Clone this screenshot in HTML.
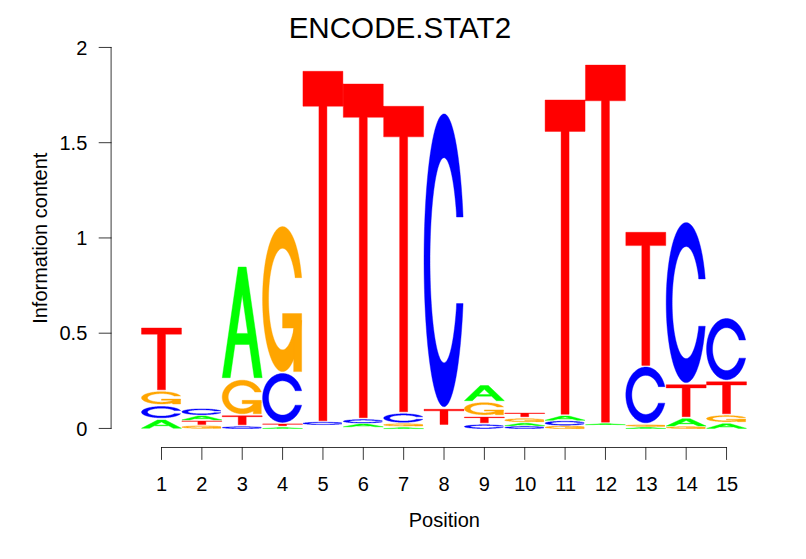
<!DOCTYPE html>
<html><head><meta charset="utf-8"><title>ENCODE.STAT2</title>
<style>
html,body{margin:0;padding:0;background:#fff;}
body{width:806px;height:559px;overflow:hidden;font-family:"Liberation Sans",sans-serif;}
svg{display:block;}
defs path{vector-effect:non-scaling-stroke;stroke-width:0.4;stroke-linejoin:round}
text{font-family:"Liberation Sans",sans-serif;fill:#000;}
</style></head><body>
<svg width="806" height="559" viewBox="0 0 806 559">
<rect width="806" height="559" fill="#fff"/>
<defs>
<path id="lA" fill-rule="evenodd" d="M0 0L0.4 1L0.6 1L1 0L0.8 0L0.68 0.3L0.32 0.3L0.2 0ZM0.36 0.4L0.5 0.75L0.64 0.4Z"/>
<path id="lC" d="M0.9777 0.3522L0.9735 0.3394L0.969 0.3266L0.9641 0.314L0.9589 0.3015L0.9534 0.2892L0.9475 0.277L0.9413 0.265L0.9348 0.2532L0.928 0.2415L0.9208 0.23L0.9134 0.2187L0.9056 0.2077L0.8976 0.1968L0.8892 0.1862L0.8806 0.1758L0.8717 0.1656L0.8625 0.1557L0.8531 0.146L0.8434 0.1366L0.8334 0.1274L0.8233 0.1185L0.8128 0.1099L0.8022 0.1016L0.7913 0.0936L0.7802 0.0859L0.7689 0.0785L0.7574 0.0713L0.7457 0.0645L0.7339 0.0581L0.7218 0.0519L0.7096 0.0461L0.6973 0.0406L0.6848 0.0354L0.6722 0.0306L0.6594 0.0261L0.6465 0.022L0.6335 0.0182L0.6205 0.0147L0.6073 0.0117L0.5941 0.0089L0.5808 0.0066L0.5674 0.0046L0.554 0.0029L0.5405 0.0016L0.527 0.0007L0.5135 0.0002L0.5 0L0.5 0L0.4833 0.0003L0.4666 0.0011L0.45 0.0025L0.4334 0.0045L0.4168 0.007L0.4004 0.01L0.3841 0.0136L0.3679 0.0178L0.3519 0.0224L0.336 0.0277L0.3203 0.0334L0.3048 0.0397L0.2895 0.0465L0.2745 0.0537L0.2597 0.0615L0.2452 0.0698L0.231 0.0786L0.217 0.0878L0.2034 0.0975L0.1901 0.1076L0.1772 0.1182L0.1646 0.1292L0.1524 0.1406L0.1406 0.1524L0.1292 0.1646L0.1182 0.1772L0.1076 0.1901L0.0975 0.2034L0.0878 0.217L0.0786 0.231L0.0698 0.2452L0.0615 0.2597L0.0537 0.2745L0.0465 0.2895L0.0397 0.3048L0.0334 0.3203L0.0277 0.336L0.0224 0.3519L0.0178 0.3679L0.0136 0.3841L0.01 0.4004L0.007 0.4168L0.0045 0.4334L0.0025 0.45L0.0011 0.4666L0.0003 0.4833L0 0.5L0 0.5L0.0003 0.5167L0.0011 0.5334L0.0025 0.55L0.0045 0.5666L0.007 0.5832L0.01 0.5996L0.0136 0.6159L0.0178 0.6321L0.0224 0.6481L0.0277 0.664L0.0334 0.6797L0.0397 0.6952L0.0465 0.7105L0.0537 0.7255L0.0615 0.7403L0.0698 0.7548L0.0786 0.769L0.0878 0.783L0.0975 0.7966L0.1076 0.8099L0.1182 0.8228L0.1292 0.8354L0.1406 0.8476L0.1524 0.8594L0.1646 0.8708L0.1772 0.8818L0.1901 0.8924L0.2034 0.9025L0.217 0.9122L0.231 0.9214L0.2452 0.9302L0.2597 0.9385L0.2745 0.9463L0.2895 0.9535L0.3048 0.9603L0.3203 0.9666L0.336 0.9723L0.3519 0.9776L0.3679 0.9822L0.3841 0.9864L0.4004 0.99L0.4168 0.993L0.4334 0.9955L0.45 0.9975L0.4666 0.9989L0.4833 0.9997L0.5 1L0.5 1L0.5135 0.9998L0.527 0.9993L0.5405 0.9984L0.554 0.9971L0.5674 0.9954L0.5808 0.9934L0.5941 0.9911L0.6073 0.9883L0.6205 0.9853L0.6335 0.9818L0.6465 0.978L0.6594 0.9739L0.6722 0.9694L0.6848 0.9646L0.6973 0.9594L0.7096 0.9539L0.7218 0.9481L0.7339 0.9419L0.7457 0.9355L0.7574 0.9287L0.7689 0.9215L0.7802 0.9141L0.7913 0.9064L0.8022 0.8984L0.8128 0.8901L0.8233 0.8815L0.8334 0.8726L0.8434 0.8634L0.8531 0.854L0.8625 0.8443L0.8717 0.8344L0.8806 0.8242L0.8892 0.8138L0.8976 0.8032L0.9056 0.7923L0.9134 0.7813L0.9208 0.77L0.928 0.7585L0.9348 0.7468L0.9413 0.735L0.9475 0.723L0.9534 0.7108L0.9589 0.6985L0.9641 0.686L0.969 0.6734L0.9735 0.6606L0.9777 0.6478L0.8133 0.6478L0.8089 0.6645L0.8044 0.6728L0.7996 0.681L0.7946 0.689L0.7894 0.6969L0.7839 0.7046L0.7783 0.7122L0.7725 0.7197L0.7664 0.727L0.7602 0.7341L0.7538 0.741L0.7472 0.7478L0.7404 0.7544L0.7334 0.7608L0.7263 0.767L0.719 0.773L0.7115 0.7789L0.7039 0.7845L0.6961 0.7899L0.6882 0.7951L0.6802 0.8001L0.672 0.8048L0.6637 0.8094L0.6553 0.8137L0.6467 0.8178L0.6381 0.8216L0.6293 0.8252L0.6205 0.8286L0.6116 0.8317L0.6026 0.8346L0.5935 0.8373L0.5843 0.8397L0.5751 0.8418L0.5658 0.8437L0.5565 0.8454L0.5472 0.8468L0.5378 0.848L0.5284 0.8488L0.5189 0.8495L0.5095 0.8499L0.5 0.85L0.5 0.85L0.4883 0.8498L0.4766 0.8492L0.465 0.8482L0.4533 0.8469L0.4418 0.8451L0.4303 0.843L0.4189 0.8405L0.4075 0.8376L0.3963 0.8343L0.3852 0.8306L0.3742 0.8266L0.3634 0.8222L0.3527 0.8175L0.3421 0.8124L0.3318 0.8069L0.3216 0.8011L0.3117 0.795L0.3019 0.7886L0.2924 0.7818L0.2831 0.7747L0.274 0.7673L0.2652 0.7596L0.2567 0.7516L0.2484 0.7433L0.2404 0.7348L0.2327 0.726L0.2253 0.7169L0.2182 0.7076L0.2114 0.6981L0.205 0.6883L0.1989 0.6784L0.1931 0.6682L0.1876 0.6579L0.1825 0.6473L0.1778 0.6366L0.1734 0.6258L0.1694 0.6148L0.1657 0.6037L0.1624 0.5925L0.1595 0.5811L0.157 0.5697L0.1549 0.5582L0.1531 0.5467L0.1518 0.535L0.1508 0.5234L0.1502 0.5117L0.15 0.5L0.15 0.5L0.1502 0.4883L0.1508 0.4766L0.1518 0.465L0.1531 0.4533L0.1549 0.4418L0.157 0.4303L0.1595 0.4189L0.1624 0.4075L0.1657 0.3963L0.1694 0.3852L0.1734 0.3742L0.1778 0.3634L0.1825 0.3527L0.1876 0.3421L0.1931 0.3318L0.1989 0.3216L0.205 0.3117L0.2114 0.3019L0.2182 0.2924L0.2253 0.2831L0.2327 0.274L0.2404 0.2652L0.2484 0.2567L0.2567 0.2484L0.2652 0.2404L0.274 0.2327L0.2831 0.2253L0.2924 0.2182L0.3019 0.2114L0.3117 0.205L0.3216 0.1989L0.3318 0.1931L0.3421 0.1876L0.3527 0.1825L0.3634 0.1778L0.3742 0.1734L0.3852 0.1694L0.3963 0.1657L0.4075 0.1624L0.4189 0.1595L0.4303 0.157L0.4418 0.1549L0.4533 0.1531L0.465 0.1518L0.4766 0.1508L0.4883 0.1502L0.5 0.15L0.5 0.15L0.5095 0.1501L0.5189 0.1505L0.5284 0.1512L0.5378 0.152L0.5472 0.1532L0.5565 0.1546L0.5658 0.1563L0.5751 0.1582L0.5843 0.1603L0.5935 0.1627L0.6026 0.1654L0.6116 0.1683L0.6205 0.1714L0.6293 0.1748L0.6381 0.1784L0.6467 0.1822L0.6553 0.1863L0.6637 0.1906L0.672 0.1952L0.6802 0.1999L0.6882 0.2049L0.6961 0.2101L0.7039 0.2155L0.7115 0.2211L0.719 0.227L0.7263 0.233L0.7334 0.2392L0.7404 0.2456L0.7472 0.2522L0.7538 0.259L0.7602 0.2659L0.7664 0.273L0.7725 0.2803L0.7783 0.2878L0.7839 0.2954L0.7894 0.3031L0.7946 0.311L0.7996 0.319L0.8044 0.3272L0.8089 0.3355L0.8133 0.3522Z"/>
<g id="lG"><path d="M0.9777 0.3522L0.9735 0.3394L0.969 0.3266L0.9641 0.314L0.9589 0.3015L0.9534 0.2892L0.9475 0.277L0.9413 0.265L0.9348 0.2532L0.928 0.2415L0.9208 0.23L0.9134 0.2187L0.9056 0.2077L0.8976 0.1968L0.8892 0.1862L0.8806 0.1758L0.8717 0.1656L0.8625 0.1557L0.8531 0.146L0.8434 0.1366L0.8334 0.1274L0.8233 0.1185L0.8128 0.1099L0.8022 0.1016L0.7913 0.0936L0.7802 0.0859L0.7689 0.0785L0.7574 0.0713L0.7457 0.0645L0.7339 0.0581L0.7218 0.0519L0.7096 0.0461L0.6973 0.0406L0.6848 0.0354L0.6722 0.0306L0.6594 0.0261L0.6465 0.022L0.6335 0.0182L0.6205 0.0147L0.6073 0.0117L0.5941 0.0089L0.5808 0.0066L0.5674 0.0046L0.554 0.0029L0.5405 0.0016L0.527 0.0007L0.5135 0.0002L0.5 0L0.5 0L0.4833 0.0003L0.4666 0.0011L0.45 0.0025L0.4334 0.0045L0.4168 0.007L0.4004 0.01L0.3841 0.0136L0.3679 0.0178L0.3519 0.0224L0.336 0.0277L0.3203 0.0334L0.3048 0.0397L0.2895 0.0465L0.2745 0.0537L0.2597 0.0615L0.2452 0.0698L0.231 0.0786L0.217 0.0878L0.2034 0.0975L0.1901 0.1076L0.1772 0.1182L0.1646 0.1292L0.1524 0.1406L0.1406 0.1524L0.1292 0.1646L0.1182 0.1772L0.1076 0.1901L0.0975 0.2034L0.0878 0.217L0.0786 0.231L0.0698 0.2452L0.0615 0.2597L0.0537 0.2745L0.0465 0.2895L0.0397 0.3048L0.0334 0.3203L0.0277 0.336L0.0224 0.3519L0.0178 0.3679L0.0136 0.3841L0.01 0.4004L0.007 0.4168L0.0045 0.4334L0.0025 0.45L0.0011 0.4666L0.0003 0.4833L0 0.5L0 0.5L0.0003 0.5167L0.0011 0.5334L0.0025 0.55L0.0045 0.5666L0.007 0.5832L0.01 0.5996L0.0136 0.6159L0.0178 0.6321L0.0224 0.6481L0.0277 0.664L0.0334 0.6797L0.0397 0.6952L0.0465 0.7105L0.0537 0.7255L0.0615 0.7403L0.0698 0.7548L0.0786 0.769L0.0878 0.783L0.0975 0.7966L0.1076 0.8099L0.1182 0.8228L0.1292 0.8354L0.1406 0.8476L0.1524 0.8594L0.1646 0.8708L0.1772 0.8818L0.1901 0.8924L0.2034 0.9025L0.217 0.9122L0.231 0.9214L0.2452 0.9302L0.2597 0.9385L0.2745 0.9463L0.2895 0.9535L0.3048 0.9603L0.3203 0.9666L0.336 0.9723L0.3519 0.9776L0.3679 0.9822L0.3841 0.9864L0.4004 0.99L0.4168 0.993L0.4334 0.9955L0.45 0.9975L0.4666 0.9989L0.4833 0.9997L0.5 1L0.5 1L0.5135 0.9998L0.527 0.9993L0.5405 0.9984L0.554 0.9971L0.5674 0.9954L0.5808 0.9934L0.5941 0.9911L0.6073 0.9883L0.6205 0.9853L0.6335 0.9818L0.6465 0.978L0.6594 0.9739L0.6722 0.9694L0.6848 0.9646L0.6973 0.9594L0.7096 0.9539L0.7218 0.9481L0.7339 0.9419L0.7457 0.9355L0.7574 0.9287L0.7689 0.9215L0.7802 0.9141L0.7913 0.9064L0.8022 0.8984L0.8128 0.8901L0.8233 0.8815L0.8334 0.8726L0.8434 0.8634L0.8531 0.854L0.8625 0.8443L0.8717 0.8344L0.8806 0.8242L0.8892 0.8138L0.8976 0.8032L0.9056 0.7923L0.9134 0.7813L0.9208 0.77L0.928 0.7585L0.9348 0.7468L0.9413 0.735L0.9475 0.723L0.9534 0.7108L0.9589 0.6985L0.9641 0.686L0.969 0.6734L0.9735 0.6606L0.9777 0.6478L0.8133 0.6478L0.8089 0.6645L0.8044 0.6728L0.7996 0.681L0.7946 0.689L0.7894 0.6969L0.7839 0.7046L0.7783 0.7122L0.7725 0.7197L0.7664 0.727L0.7602 0.7341L0.7538 0.741L0.7472 0.7478L0.7404 0.7544L0.7334 0.7608L0.7263 0.767L0.719 0.773L0.7115 0.7789L0.7039 0.7845L0.6961 0.7899L0.6882 0.7951L0.6802 0.8001L0.672 0.8048L0.6637 0.8094L0.6553 0.8137L0.6467 0.8178L0.6381 0.8216L0.6293 0.8252L0.6205 0.8286L0.6116 0.8317L0.6026 0.8346L0.5935 0.8373L0.5843 0.8397L0.5751 0.8418L0.5658 0.8437L0.5565 0.8454L0.5472 0.8468L0.5378 0.848L0.5284 0.8488L0.5189 0.8495L0.5095 0.8499L0.5 0.85L0.5 0.85L0.4883 0.8498L0.4766 0.8492L0.465 0.8482L0.4533 0.8469L0.4418 0.8451L0.4303 0.843L0.4189 0.8405L0.4075 0.8376L0.3963 0.8343L0.3852 0.8306L0.3742 0.8266L0.3634 0.8222L0.3527 0.8175L0.3421 0.8124L0.3318 0.8069L0.3216 0.8011L0.3117 0.795L0.3019 0.7886L0.2924 0.7818L0.2831 0.7747L0.274 0.7673L0.2652 0.7596L0.2567 0.7516L0.2484 0.7433L0.2404 0.7348L0.2327 0.726L0.2253 0.7169L0.2182 0.7076L0.2114 0.6981L0.205 0.6883L0.1989 0.6784L0.1931 0.6682L0.1876 0.6579L0.1825 0.6473L0.1778 0.6366L0.1734 0.6258L0.1694 0.6148L0.1657 0.6037L0.1624 0.5925L0.1595 0.5811L0.157 0.5697L0.1549 0.5582L0.1531 0.5467L0.1518 0.535L0.1508 0.5234L0.1502 0.5117L0.15 0.5L0.15 0.5L0.1502 0.4883L0.1508 0.4766L0.1518 0.465L0.1531 0.4533L0.1549 0.4418L0.157 0.4303L0.1595 0.4189L0.1624 0.4075L0.1657 0.3963L0.1694 0.3852L0.1734 0.3742L0.1778 0.3634L0.1825 0.3527L0.1876 0.3421L0.1931 0.3318L0.1989 0.3216L0.205 0.3117L0.2114 0.3019L0.2182 0.2924L0.2253 0.2831L0.2327 0.274L0.2404 0.2652L0.2484 0.2567L0.2567 0.2484L0.2652 0.2404L0.274 0.2327L0.2831 0.2253L0.2924 0.2182L0.3019 0.2114L0.3117 0.205L0.3216 0.1989L0.3318 0.1931L0.3421 0.1876L0.3527 0.1825L0.3634 0.1778L0.3742 0.1734L0.3852 0.1694L0.3963 0.1657L0.4075 0.1624L0.4189 0.1595L0.4303 0.157L0.4418 0.1549L0.4533 0.1531L0.465 0.1518L0.4766 0.1508L0.4883 0.1502L0.5 0.15L0.5 0.15L0.5095 0.1501L0.5189 0.1505L0.5284 0.1512L0.5378 0.152L0.5472 0.1532L0.5565 0.1546L0.5658 0.1563L0.5751 0.1582L0.5843 0.1603L0.5935 0.1627L0.6026 0.1654L0.6116 0.1683L0.6205 0.1714L0.6293 0.1748L0.6381 0.1784L0.6467 0.1822L0.6553 0.1863L0.6637 0.1906L0.672 0.1952L0.6802 0.1999L0.6882 0.2049L0.6961 0.2101L0.7039 0.2155L0.7115 0.2211L0.719 0.227L0.7263 0.233L0.7334 0.2392L0.7404 0.2456L0.7472 0.2522L0.7538 0.259L0.7602 0.2659L0.7664 0.273L0.7725 0.2803L0.7783 0.2878L0.7839 0.2954L0.7894 0.3031L0.7946 0.311L0.7996 0.319L0.8044 0.3272L0.8089 0.3355L0.8133 0.3522Z"/><path d="M0.9777 0.4L0.5 0.4L0.5 0.3L0.7777 0.3L0.7777 0L0.9777 0Z"/></g>
<path id="lT" d="M0 1L1 1L1 0.9L0.6 0.9L0.6 0L0.4 0L0.4 0.9L0 0.9Z"/>
</defs>
<g>
<use href="#lT" fill="#ff0000" stroke="#ff0000" transform="translate(141.50 389.80) scale(39.96 -61.80)"/>
<use href="#lG" fill="#ffa500" stroke="#ffa500" transform="translate(141.50 404.00) scale(39.96 -12.30)"/>
<use href="#lC" fill="#0000ff" stroke="#0000ff" transform="translate(141.50 417.80) scale(39.96 -11.30)"/>
<use href="#lA" fill="#00ff00" stroke="#00ff00" transform="translate(141.50 428.30) scale(39.96 -8.30)"/>
<use href="#lC" fill="#0000ff" stroke="#0000ff" transform="translate(181.86 414.70) scale(39.96 -5.80)"/>
<use href="#lA" fill="#00ff00" stroke="#00ff00" transform="translate(181.86 419.90) scale(39.96 -3.90)"/>
<use href="#lT" fill="#ff0000" stroke="#ff0000" transform="translate(181.86 424.60) scale(39.96 -3.60)"/>
<use href="#lG" fill="#ffa500" stroke="#ffa500" transform="translate(181.86 428.30) scale(39.96 -2.40)"/>
<use href="#lA" fill="#00ff00" stroke="#00ff00" transform="translate(222.22 377.70) scale(39.96 -110.70)"/>
<use href="#lG" fill="#ffa500" stroke="#ffa500" transform="translate(222.22 413.80) scale(39.96 -33.60)"/>
<use href="#lT" fill="#ff0000" stroke="#ff0000" transform="translate(222.22 424.80) scale(39.96 -9.00)"/>
<use href="#lC" fill="#0000ff" stroke="#0000ff" transform="translate(222.22 428.50) scale(39.96 -1.70)"/>
<use href="#lG" fill="#ffa500" stroke="#ffa500" transform="translate(262.58 371.60) scale(39.96 -145.00)"/>
<use href="#lC" fill="#0000ff" stroke="#0000ff" transform="translate(262.58 422.40) scale(39.96 -48.90)"/>
<use href="#lT" fill="#ff0000" stroke="#ff0000" transform="translate(262.58 425.70) scale(39.96 -1.70)"/>
<use href="#lA" fill="#00ff00" stroke="#00ff00" transform="translate(262.58 428.50) scale(39.96 -0.80)"/>
<use href="#lT" fill="#ff0000" stroke="#ff0000" transform="translate(302.94 420.80) scale(39.96 -349.50)"/>
<use href="#lC" fill="#0000ff" stroke="#0000ff" transform="translate(302.94 424.60) scale(39.96 -2.40)"/>
<use href="#lT" fill="#ff0000" stroke="#ff0000" transform="translate(343.30 417.70) scale(39.96 -333.70)"/>
<use href="#lC" fill="#0000ff" stroke="#0000ff" transform="translate(343.30 423.00) scale(39.96 -3.40)"/>
<use href="#lA" fill="#00ff00" stroke="#00ff00" transform="translate(343.30 426.80) scale(39.96 -2.80)"/>
<use href="#lT" fill="#ff0000" stroke="#ff0000" transform="translate(383.66 411.80) scale(39.96 -305.50)"/>
<use href="#lC" fill="#0000ff" stroke="#0000ff" transform="translate(383.66 422.30) scale(39.96 -8.50)"/>
<use href="#lG" fill="#ffa500" stroke="#ffa500" transform="translate(383.66 426.00) scale(39.96 -2.20)"/>
<use href="#lA" fill="#00ff00" stroke="#00ff00" transform="translate(383.66 428.60) scale(39.96 -0.80)"/>
<use href="#lC" fill="#0000ff" stroke="#0000ff" transform="translate(424.02 406.70) scale(39.96 -292.80)"/>
<use href="#lT" fill="#ff0000" stroke="#ff0000" transform="translate(424.02 424.50) scale(39.96 -15.20)"/>
<use href="#lA" fill="#00ff00" stroke="#00ff00" transform="translate(464.38 400.70) scale(39.96 -15.20)"/>
<use href="#lG" fill="#ffa500" stroke="#ffa500" transform="translate(464.38 414.70) scale(39.96 -12.00)"/>
<use href="#lT" fill="#ff0000" stroke="#ff0000" transform="translate(464.38 422.80) scale(39.96 -5.70)"/>
<use href="#lC" fill="#0000ff" stroke="#0000ff" transform="translate(464.38 428.50) scale(39.96 -3.70)"/>
<use href="#lT" fill="#ff0000" stroke="#ff0000" transform="translate(504.74 416.70) scale(39.96 -3.60)"/>
<use href="#lG" fill="#ffa500" stroke="#ffa500" transform="translate(504.74 421.70) scale(39.96 -3.00)"/>
<use href="#lA" fill="#00ff00" stroke="#00ff00" transform="translate(504.74 425.70) scale(39.96 -2.50)"/>
<use href="#lC" fill="#0000ff" stroke="#0000ff" transform="translate(504.74 428.50) scale(39.96 -1.90)"/>
<use href="#lT" fill="#ff0000" stroke="#ff0000" transform="translate(545.10 414.30) scale(39.96 -314.30)"/>
<use href="#lA" fill="#00ff00" stroke="#00ff00" transform="translate(545.10 420.30) scale(39.96 -4.30)"/>
<use href="#lC" fill="#0000ff" stroke="#0000ff" transform="translate(545.10 425.20) scale(39.96 -4.00)"/>
<use href="#lG" fill="#ffa500" stroke="#ffa500" transform="translate(545.10 428.60) scale(39.96 -2.50)"/>
<use href="#lT" fill="#ff0000" stroke="#ff0000" transform="translate(585.46 422.20) scale(39.96 -357.10)"/>
<use href="#lA" fill="#00ff00" stroke="#00ff00" transform="translate(585.46 424.70) scale(39.96 -0.90)"/>
<use href="#lT" fill="#ff0000" stroke="#ff0000" transform="translate(625.82 365.40) scale(39.96 -133.10)"/>
<use href="#lC" fill="#0000ff" stroke="#0000ff" transform="translate(625.82 422.80) scale(39.96 -55.80)"/>
<use href="#lG" fill="#ffa500" stroke="#ffa500" transform="translate(625.82 426.20) scale(39.96 -1.20)"/>
<use href="#lA" fill="#00ff00" stroke="#00ff00" transform="translate(625.82 428.50) scale(39.96 -1.00)"/>
<use href="#lC" fill="#0000ff" stroke="#0000ff" transform="translate(666.18 382.60) scale(39.96 -160.00)"/>
<use href="#lT" fill="#ff0000" stroke="#ff0000" transform="translate(666.18 416.70) scale(39.96 -32.00)"/>
<use href="#lA" fill="#00ff00" stroke="#00ff00" transform="translate(666.18 426.10) scale(39.96 -7.40)"/>
<use href="#lG" fill="#ffa500" stroke="#ffa500" transform="translate(666.18 428.40) scale(39.96 -1.60)"/>
<use href="#lC" fill="#0000ff" stroke="#0000ff" transform="translate(706.54 379.70) scale(39.96 -61.20)"/>
<use href="#lT" fill="#ff0000" stroke="#ff0000" transform="translate(706.54 413.80) scale(39.96 -32.00)"/>
<use href="#lG" fill="#ffa500" stroke="#ffa500" transform="translate(706.54 421.70) scale(39.96 -6.10)"/>
<use href="#lA" fill="#00ff00" stroke="#00ff00" transform="translate(706.54 428.40) scale(39.96 -4.60)"/>
<rect x="342.50" y="83.8" width="1.2" height="22.30" fill="#ff0000"/>
<rect x="382.86" y="106.1" width="1.2" height="11.10" fill="#ff0000"/>
<rect x="584.66" y="99.8" width="1.2" height="0.85" fill="#ff0000"/>
</g>
<g stroke="#000" style="stroke-width:0.78" fill="none" stroke-linecap="round">
<path d="M111.1 47.45V428.45"/>
<path d="M111.1 428.45H99.1"/>
<path d="M111.1 333.20H99.1"/>
<path d="M111.1 237.95H99.1"/>
<path d="M111.1 142.70H99.1"/>
<path d="M111.1 47.45H99.1"/>
<path d="M161.5 447.5H726.54"/>
<path d="M161.50 447.5V459.5"/>
<path d="M201.86 447.5V459.5"/>
<path d="M242.22 447.5V459.5"/>
<path d="M282.58 447.5V459.5"/>
<path d="M322.94 447.5V459.5"/>
<path d="M363.30 447.5V459.5"/>
<path d="M403.66 447.5V459.5"/>
<path d="M444.02 447.5V459.5"/>
<path d="M484.38 447.5V459.5"/>
<path d="M524.74 447.5V459.5"/>
<path d="M565.10 447.5V459.5"/>
<path d="M605.46 447.5V459.5"/>
<path d="M645.82 447.5V459.5"/>
<path d="M686.18 447.5V459.5"/>
<path d="M726.54 447.5V459.5"/>
</g>
<g font-size="20">
<text x="87.3" y="435.55" text-anchor="end">0</text>
<text x="87.3" y="340.30" text-anchor="end">0.5</text>
<text x="87.3" y="245.05" text-anchor="end">1</text>
<text x="87.3" y="149.80" text-anchor="end">1.5</text>
<text x="87.3" y="54.55" text-anchor="end">2</text>
<text x="161.50" y="491.3" text-anchor="middle">1</text>
<text x="201.86" y="491.3" text-anchor="middle">2</text>
<text x="242.22" y="491.3" text-anchor="middle">3</text>
<text x="282.58" y="491.3" text-anchor="middle">4</text>
<text x="322.94" y="491.3" text-anchor="middle">5</text>
<text x="363.30" y="491.3" text-anchor="middle">6</text>
<text x="403.66" y="491.3" text-anchor="middle">7</text>
<text x="444.02" y="491.3" text-anchor="middle">8</text>
<text x="484.38" y="491.3" text-anchor="middle">9</text>
<text x="525.34" y="491.3" text-anchor="middle">10</text>
<text x="565.70" y="491.3" text-anchor="middle">11</text>
<text x="606.06" y="491.3" text-anchor="middle">12</text>
<text x="646.42" y="491.3" text-anchor="middle">13</text>
<text x="686.78" y="491.3" text-anchor="middle">14</text>
<text x="727.14" y="491.3" text-anchor="middle">15</text>
<text x="444.3" y="527" text-anchor="middle">Position</text>
<text transform="translate(47 238.2) rotate(-90)" text-anchor="middle">Information content</text>
</g>
<text x="399.9" y="37.5" font-size="29.6" text-anchor="middle">ENCODE.STAT2</text>
</svg></body></html>
